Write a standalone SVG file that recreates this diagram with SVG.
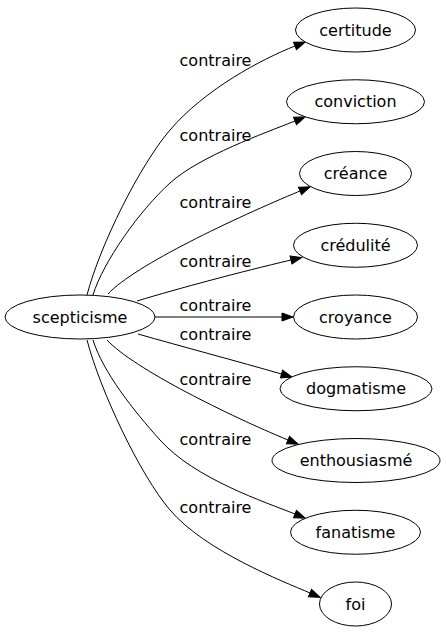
<svg xmlns="http://www.w3.org/2000/svg" width="446" height="635" viewBox="0 0 446 635">
<style>
.node ellipse{fill:#fff;stroke:#000;stroke-width:1}
.node text{font-family:"DejaVu Sans",sans-serif;font-size:16px;text-anchor:middle;fill:#000}
.edge path{fill:none;stroke:#000;stroke-width:1;marker-end:url(#arr)}
.edge text{font-family:"DejaVu Sans",sans-serif;font-size:16px;text-anchor:middle;fill:#000}
</style>
<defs>
<marker id="arr" markerUnits="userSpaceOnUse" viewBox="0 0 11 8" markerWidth="11" markerHeight="8" refX="0" refY="4" orient="auto" overflow="visible">
<path d="M0,0 L11,4 L0,8 z" fill="#000" stroke="#000" stroke-width="1"/>
</marker>
</defs>
<rect width="446" height="635" fill="#fff"/>
<g id="edges" class="edge">
<path d="M87,295 C100,245 140,165 170,130 C205,89 262,59 295,46"/>
<text x="215.5" y="65.5">contraire</text>
<path d="M93,295 C103,262 140,210 170,183 C200,156 265,133 295,121"/>
<text x="215.5" y="141">contraire</text>
<path d="M108,294 C135,265 235,218 300,191"/>
<text x="215.5" y="208">contraire</text>
<path d="M137,301 C180,288 240,272 291,260"/>
<text x="215.5" y="267">contraire</text>
<path d="M155,317 L282,317"/>
<text x="215.5" y="311">contraire</text>
<path d="M138,334 C180,346 240,362 281.5,374"/>
<text x="215.5" y="339.5">contraire</text>
<path d="M107,340 C134,369 230,416 288,440"/>
<text x="215.5" y="385">contraire</text>
<path d="M93,340 C103,372 133,410 160,440 C195,479 265,502 295,514"/>
<text x="215.5" y="445">contraire</text>
<path d="M87,340 C100,390 140,475 170,510 C205,551 282,581 310,593"/>
<text x="215.5" y="513">contraire</text>
</g>
<g id="scepticisme" class="node"><ellipse cx="80" cy="317" rx="75" ry="22"/><text x="80" y="322.5">scepticisme</text></g>
<g id="certitude" class="node"><ellipse cx="355.5" cy="30" rx="60" ry="22"/><text x="355.5" y="35.5">certitude</text></g>
<g id="conviction" class="node"><ellipse cx="355.5" cy="101.75" rx="69" ry="22"/><text x="355.5" y="107.25">conviction</text></g>
<g id="creance" class="node"><ellipse cx="355.5" cy="173.5" rx="56" ry="22"/><text x="355.5" y="179">créance</text></g>
<g id="credulite" class="node"><ellipse cx="355.5" cy="245.25" rx="62" ry="22"/><text x="355.5" y="250.75">crédulité</text></g>
<g id="croyance" class="node"><ellipse cx="355.5" cy="317" rx="62" ry="22"/><text x="355.5" y="322.5">croyance</text></g>
<g id="dogmatisme" class="node"><ellipse cx="356" cy="388.75" rx="76" ry="22"/><text x="356" y="394.25">dogmatisme</text></g>
<g id="enthousiasme" class="node"><ellipse cx="356" cy="460.5" rx="84" ry="22"/><text x="356" y="466">enthousiasmé</text></g>
<g id="fanatisme" class="node"><ellipse cx="355.5" cy="532.25" rx="65" ry="22"/><text x="355.5" y="537.75">fanatisme</text></g>
<g id="foi" class="node"><ellipse cx="355.5" cy="604" rx="36" ry="22"/><text x="355.5" y="609.5">foi</text></g>
</svg>
